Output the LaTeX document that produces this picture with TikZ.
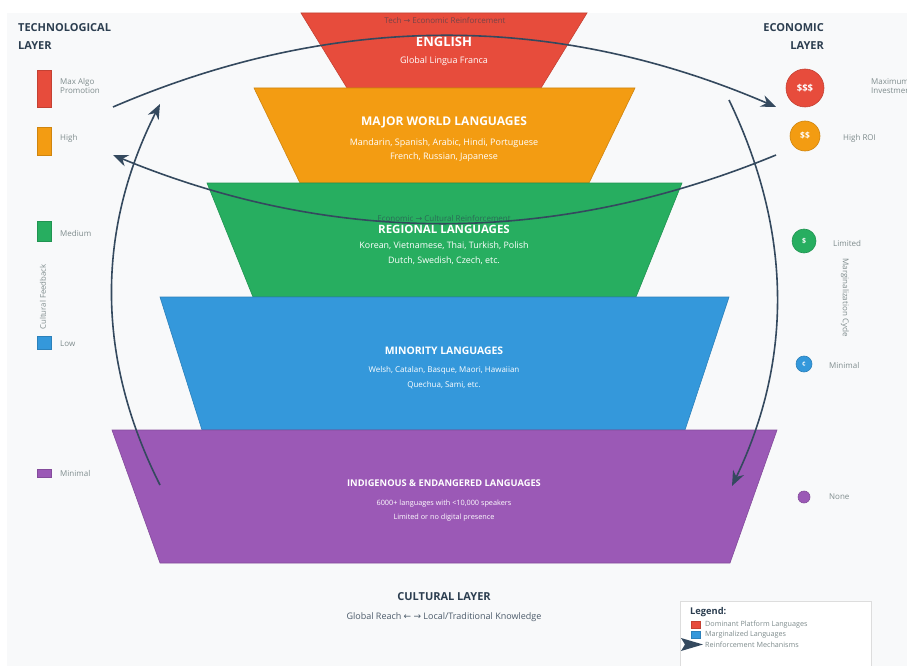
\documentclass[tikz,border=0pt]{standalone}
\usepackage{fontspec}
\setmainfont{Open Sans}
\newfontfamily\arrowfont{DejaVu Sans}
\usetikzlibrary{arrows.meta}

\definecolor{panel}{HTML}{F8F9FA}
\definecolor{cRed}{HTML}{E74C3C}
\definecolor{cOrange}{HTML}{F39C12}
\definecolor{cGreen}{HTML}{27AE60}
\definecolor{cBlue}{HTML}{3498DB}
\definecolor{cPurple}{HTML}{9B59B6}
\definecolor{ink}{HTML}{2C3E50}
\definecolor{flowcol}{HTML}{34495E}
\definecolor{muted}{HTML}{7F8C8D}
\definecolor{legendedge}{HTML}{DDDDDD}

\newcommand\fsz[1]{\fontsize{#1}{#1}\selectfont}
\newcommand\rarr{{\arrowfont →}}
\newcommand\larr{{\arrowfont ←}}

\tikzset{
  tier/.style={fill=#1, draw=#1!85!black, line width=0.6pt},
  tiertitle/.style={text=white, font=\fsz{#1}\bfseries, inner sep=0pt},
  tiertext/.style={text=white, font=\fsz{#1}, inner sep=0pt},
  layertitle/.style={text=ink, font=\fsz{11}\bfseries, inner sep=0pt},
  sidelabel/.style={text=muted, font=\fsz{8}, anchor=west, inner sep=0pt},
  reinf/.style={text=ink, text opacity=0.6, font=\fsz{8}, inner sep=0pt},
  bar/.style={fill=#1, draw=#1!85!black, line width=0.4pt},
  coin/.style={circle, fill=#1, draw=#1!85!black, line width=0.6pt, inner sep=0pt,
               text=white, font=\fsz{7}\bfseries},
  flow/.style={draw=flowcol, line width=1.6pt,
               -{Stealth[length=15pt,width=12pt]}},
}

\begin{document}
\begin{tikzpicture}[x=1pt,y=-1pt]
\useasboundingbox (0,0) rectangle (907,666);
\fill[white] (0,0) rectangle (907,666);
\fill[panel] (7,13) rectangle (907,666);

% language tiers, widest at the bottom
\filldraw[tier=cRed]    (301,13) -- (587,13) -- (541,88) -- (347,88) -- cycle;
\filldraw[tier=cOrange] (254,88) -- (635,88) -- (589,183) -- (300,183) -- cycle;
\filldraw[tier=cGreen]  (207,183) -- (682,183) -- (636,297) -- (253,297) -- cycle;
\filldraw[tier=cBlue]   (160,297) -- (729,297) -- (685,430) -- (202,430) -- cycle;
\filldraw[tier=cPurple] (112,430) -- (777,430) -- (730,563) -- (160,563) -- cycle;

% tier texts
\node[reinf] (techecon) at (445,20) {Tech \rarr\ Economic Reinforcement};
\node[tiertitle=13] (english) at (444,42) {ENGLISH};
\node[tiertext=9] (englishsub) at (444,61) {Global Lingua Franca};

\node[tiertitle=12] (major) at (444,122) {MAJOR WORLD LANGUAGES};
\node[tiertext=9] (majorA) at (444,143) {Mandarin, Spanish, Arabic, Hindi, Portuguese};
\node[tiertext=9] (majorB) at (444,157) {French, Russian, Japanese};

\node[tiertitle=11.5] (regional) at (444,229) {REGIONAL LANGUAGES};
\node[tiertext=8.9] (regionalA) at (444,246) {Korean, Vietnamese, Thai, Turkish, Polish};
\node[tiertext=8.9] (regionalB) at (444,261) {Dutch, Swedish, Czech, etc.};

\node[tiertitle=10.4] (minority) at (444,351) {MINORITY LANGUAGES};
\node[tiertext=8] (minorityA) at (444,370) {Welsh, Catalan, Basque, Maori, Hawaiian};
\node[tiertext=8] (minorityB) at (444,385) {Quechua, Sami, etc.};

\node[tiertitle=9.3] (indig) at (444,483) {INDIGENOUS \& ENDANGERED LANGUAGES};
\node[tiertext=7.3] (indigA) at (444,504) {6000+ languages with <10,000 speakers};
\node[tiertext=7.3] (indigB) at (444,518) {Limited or no digital presence};

% technological layer
\node[layertitle, anchor=west] (techT1) at (18,28) {TECHNOLOGICAL};
\node[layertitle, anchor=west] (techT2) at (18,46) {LAYER};

\filldraw[bar=cRed]    (37,70) rectangle (51,107);
\filldraw[bar=cOrange] (37,127) rectangle (51,155);
\filldraw[bar=cGreen]  (37,221) rectangle (51,241);
\filldraw[bar=cBlue]   (37,336) rectangle (51,349);
\filldraw[bar=cPurple] (37,469) rectangle (51,477);

\node[sidelabel] (algoA) at (60,82) {Max Algo};
\node[sidelabel] (algoB) at (60,90.5) {Promotion};
\node[sidelabel] (techHigh) at (60,138) {High};
\node[sidelabel] (techMed) at (60,233) {Medium};
\node[sidelabel] (techLow) at (60,344) {Low};
\node[sidelabel] (techMin) at (60,473) {Minimal};
\node[text=muted, font=\fsz{7.8}, rotate=90, inner sep=0pt] (cultfb) at (43,297) {Cultural Feedback};

% economic layer
\node[layertitle, anchor=east] (econT1) at (824,28) {ECONOMIC};
\node[layertitle, anchor=east] (econT2) at (824,46) {LAYER};

\node[coin=cRed, minimum size=38pt, font=\fsz{9.5}\bfseries] (c1) at (805,88) {\$\$\$};
\node[coin=cOrange, minimum size=30pt, font=\fsz{8.5}\bfseries] (c2) at (805,136) {\$\$};
\node[coin=cGreen, minimum size=24pt, font=\fsz{7}\bfseries] (c3) at (804,241) {\$};
\node[coin=cBlue, minimum size=16pt, font=\fsz{6.5}\bfseries] (c4) at (804,364) {¢};
\node[coin=cPurple, minimum size=12pt] (c5) at (804,497) {};

\node[sidelabel] (investA) at (871,82) {Maximum};
\node[sidelabel] (investB) at (871,90.5) {Investment};
\node[sidelabel] (econHigh) at (843,138) {High ROI};
\node[sidelabel] (econLim) at (833,243) {Limited};
\node[sidelabel] (econMin) at (829,365) {Minimal};
\node[sidelabel] (econNone) at (829,497) {None};
\node[text=muted, font=\fsz{8}, rotate=-90, inner sep=0pt] (margcyc) at (845,298) {Marginalization Cycle};

\node[reinf] (econcult) at (444,218) {Economic \rarr\ Cultural Reinforcement};

% reinforcement loops
\coordinate (techTop) at (113,107);
\coordinate (econTop) at (776,107);
\coordinate (econMid) at (776,155);
\coordinate (techMid) at (113,155);
\coordinate (cultLeft) at (160,485);
\coordinate (techRise) at (160,104);
\coordinate (econFall) at (729,100);
\coordinate (cultRight) at (732,486);

\draw[flow] (techTop) .. controls (334,12) and (555,12) .. (econTop);
\draw[flow] (econMid) .. controls (555,246) and (334,246) .. (techMid);
\draw[flow] (cultLeft) .. controls (96,358) and (96,231) .. (techRise);
\draw[flow] (econFall) .. controls (792,231) and (793,359) .. (cultRight);

% cultural layer caption
\node[layertitle] (cultT) at (444,597) {CULTURAL LAYER};
\node[text=ink!85, font=\fsz{9}, inner sep=0pt] (cultsub) at (444,617)
  {Global Reach \larr\ \rarr\ Local/Traditional Knowledge};

% legend
\filldraw[fill=white, draw=legendedge, line width=0.8pt] (680,601) rectangle (871,672);
\node[text=ink, font=\fsz{9.3}\bfseries, anchor=west, inner sep=0pt] (legT) at (690,612) {Legend:};
\filldraw[bar=cRed]  (691,621) rectangle (700,628);
\filldraw[bar=cBlue] (691,631) rectangle (700,638);
\fill[flowcol] (681,638) -- (703,644.5) -- (681,651) -- (685,644.5) -- cycle;
\node[sidelabel, font=\fsz{7.2}] (legA) at (705,625) {Dominant Platform Languages};
\node[sidelabel, font=\fsz{7.2}] (legB) at (705,634.5) {Marginalized Languages};
\node[sidelabel, font=\fsz{7.2}] (legC) at (705,644.5) {Reinforcement Mechanisms};
\end{tikzpicture}
\end{document}
